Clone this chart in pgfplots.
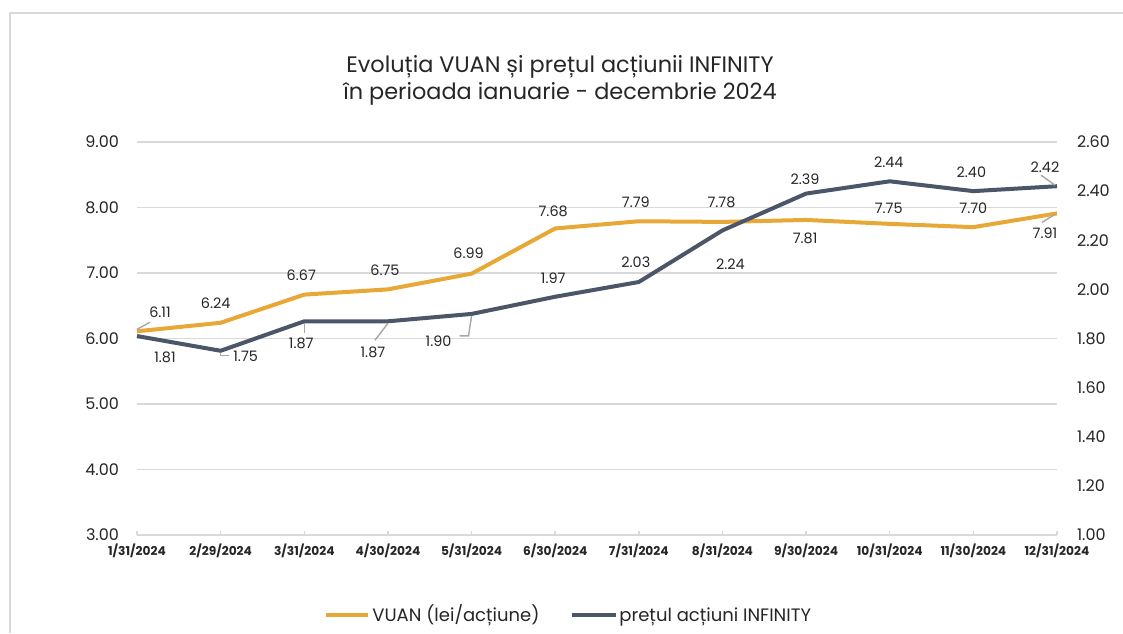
\documentclass[border=0pt]{standalone}
\usepackage{fontspec}
\setmainfont{Poppins}
\usepackage{pgfplots}
\pgfplotsset{compat=1.18}
\definecolor{vuan}{HTML}{E8A838}
\definecolor{infc}{HTML}{4B5669}
\definecolor{gridc}{HTML}{D9D9D9}
\definecolor{leadc}{HTML}{A6A6A6}
\definecolor{txtc}{HTML}{262626}
\begin{document}
\begin{tikzpicture}[x=1pt,y=1pt]
\useasboundingbox (0,0) rectangle (561.5,316.5);
\fill[white] (0,0) rectangle (561.5,316.5);
\draw[gridc, line width=1.2pt] (5,0) -- (5,310) -- (561.5,310);
\node[font=\fontsize{11.2}{13}\selectfont, text=txtc] at (280,283) {Evoluția VUAN și prețul acțiunii INFINITY};
\node[font=\fontsize{11.2}{13}\selectfont, text=txtc] at (280,269.5) {în perioada ianuarie - decembrie 2024};

\begin{axis}[
  at={(68.5pt,49pt)}, anchor=south west,
  scale only axis, width=460pt, height=196.5pt,
  xmin=0, xmax=11, ymin=3, ymax=9,
  xtick={0,...,11},
  xticklabels={1/31/2024,2/29/2024,3/31/2024,4/30/2024,5/31/2024,6/30/2024,7/31/2024,8/31/2024,9/30/2024,10/31/2024,11/30/2024,12/31/2024},
  ytick={3,4,5,6,7,8,9},
  ymajorgrids, grid style={gridc, line width=0.7pt},
  axis line style={draw=none},
  xtick pos=bottom, ytick pos=left,
  tick align=inside, major tick length=2pt,
  xtick style={gridc, line width=0.7pt},
  ytick style={draw=none},
  xticklabel style={font=\fontsize{6.1}{7}\selectfont\bfseries, text=txtc, yshift=-1pt},
  yticklabel style={font=\fontsize{8}{9}\selectfont, text=txtc, xshift=-5.5pt,
    /pgf/number format/.cd, fixed, fixed zerofill, precision=2, assume math mode=true},
  clip=false,
]
\addplot[vuan, line width=2pt, line join=round] coordinates {
(0,6.11) (1,6.24) (2,6.67) (3,6.75) (4,6.99) (5,7.68) (6,7.79) (7,7.78) (8,7.81) (9,7.75) (10,7.70) (11,7.91)};
\begin{scope}[every node/.style={font=\fontsize{7.2}{8}\selectfont, text=txtc}]
\node[xshift=11.5pt, yshift=9.5pt] at (axis cs:0,6.11) {6.11};
\node[xshift=-2.5pt, yshift=10pt] at (axis cs:1,6.24) {6.24};
\node[xshift=-1.5pt, yshift=9.5pt] at (axis cs:2,6.67) {6.67};
\node[xshift=-1.5pt, yshift=9.5pt] at (axis cs:3,6.75) {6.75};
\node[xshift=-1.5pt, yshift=10pt] at (axis cs:4,6.99) {6.99};
\node[xshift=-1pt, yshift=8.5pt] at (axis cs:5,7.68) {7.68};
\node[xshift=-1.5pt, yshift=9.5pt] at (axis cs:6,7.79) {7.79};
\node[xshift=-0.5pt, yshift=10pt] at (axis cs:7,7.78) {7.78};
\node[xshift=-0.5pt, yshift=-9pt] at (axis cs:8,7.81) {7.81};
\node[xshift=-0.5pt, yshift=8pt] at (axis cs:9,7.75) {7.75};
\node[xshift=0pt, yshift=9.5pt] at (axis cs:10,7.70) {7.70};
\node[xshift=-6pt, yshift=-10pt] at (axis cs:11,7.91) {7.91};
\end{scope}
\draw[leadc, line width=0.7pt] ([shift={(0pt,1pt)}]axis cs:0,6.11) -- ([shift={(6.5pt,4.5pt)}]axis cs:0,6.11);
\draw[leadc, line width=0.7pt] ([shift={(-1pt,-0.5pt)}]axis cs:11,7.91) -- ([shift={(-7.5pt,-4.5pt)}]axis cs:11,7.91);
\end{axis}

\begin{axis}[
  at={(68.5pt,49pt)}, anchor=south west,
  scale only axis, width=460pt, height=196.5pt,
  xmin=0, xmax=11, ymin=1, ymax=2.6,
  hide x axis,
  ytick={1,1.2,1.4,1.6,1.8,2.0,2.2,2.4,2.6},
  axis line style={draw=none},
  ytick pos=right,
  ytick style={draw=none},
  yticklabel style={font=\fontsize{8}{9}\selectfont, text=txtc, xshift=6.5pt,
    /pgf/number format/.cd, fixed, fixed zerofill, precision=2, assume math mode=true},
  clip=false,
]
\addplot[infc, line width=2pt, line join=round] coordinates {
(0,1.81) (1,1.75) (2,1.87) (3,1.87) (4,1.90) (5,1.97) (6,2.03) (7,2.24) (8,2.39) (9,2.44) (10,2.40) (11,2.42)};
\begin{scope}[every node/.style={font=\fontsize{7.2}{8}\selectfont, text=txtc}]
\node[xshift=14pt, yshift=-10.5pt] at (axis cs:0,1.81) {1.81};
\node[xshift=12.5pt, yshift=-3pt] at (axis cs:1,1.75) {1.75};
\node[xshift=-1.5pt, yshift=-11pt] at (axis cs:2,1.87) {1.87};
\node[xshift=-7.5pt, yshift=-15.5pt] at (axis cs:3,1.87) {1.87};
\node[xshift=-16.5pt, yshift=-13.5pt] at (axis cs:4,1.90) {1.90};
\node[xshift=-1pt, yshift=9.5pt] at (axis cs:5,1.97) {1.97};
\node[xshift=-1.5pt, yshift=10pt] at (axis cs:6,2.03) {2.03};
\node[xshift=4pt, yshift=-17pt] at (axis cs:7,2.24) {2.24};
\node[xshift=-0.5pt, yshift=7pt] at (axis cs:8,2.39) {2.39};
\node[xshift=-0.5pt, yshift=9.5pt] at (axis cs:9,2.44) {2.44};
\node[xshift=-1pt, yshift=9.5pt] at (axis cs:10,2.40) {2.40};
\node[xshift=-6pt, yshift=9.5pt] at (axis cs:11,2.42) {2.42};
\end{scope}
\draw[leadc, line width=0.7pt] ([shift={(0pt,-1pt)}]axis cs:1,1.75) -- ([shift={(0pt,-2.5pt)}]axis cs:1,1.75) -- ([shift={(4pt,-2.5pt)}]axis cs:1,1.75);
\draw[leadc, line width=0.7pt] ([shift={(0pt,-1pt)}]axis cs:2,1.87) -- ([shift={(0pt,-6pt)}]axis cs:2,1.87);
\draw[leadc, line width=0.7pt] ([shift={(0pt,-1pt)}]axis cs:3,1.87) -- ([shift={(-6.5pt,-9.5pt)}]axis cs:3,1.87);
\draw[leadc, line width=0.7pt] ([shift={(0pt,-1pt)}]axis cs:4,1.90) -- ([shift={(-1.5pt,-11pt)}]axis cs:4,1.90) -- ([shift={(-6pt,-11pt)}]axis cs:4,1.90);
\draw[leadc, line width=0.7pt] ([shift={(-1pt,0.5pt)}]axis cs:11,2.42) -- ([shift={(-8pt,5.5pt)}]axis cs:11,2.42);
\end{axis}
% legend
\draw[vuan, line width=2.2pt] (163,9) -- (184,9);
\node[anchor=base west, inner sep=0pt, font=\fontsize{9}{10}\selectfont, text=txtc] at (186,5.8) {VUAN (lei/acțiune)};
\draw[infc, line width=2.2pt] (286,9) -- (308,9);
\node[anchor=base west, inner sep=0pt, font=\fontsize{9}{10}\selectfont, text=txtc] at (309.5,5.8) {prețul acțiuni INFINITY};
\end{tikzpicture}
\end{document}
